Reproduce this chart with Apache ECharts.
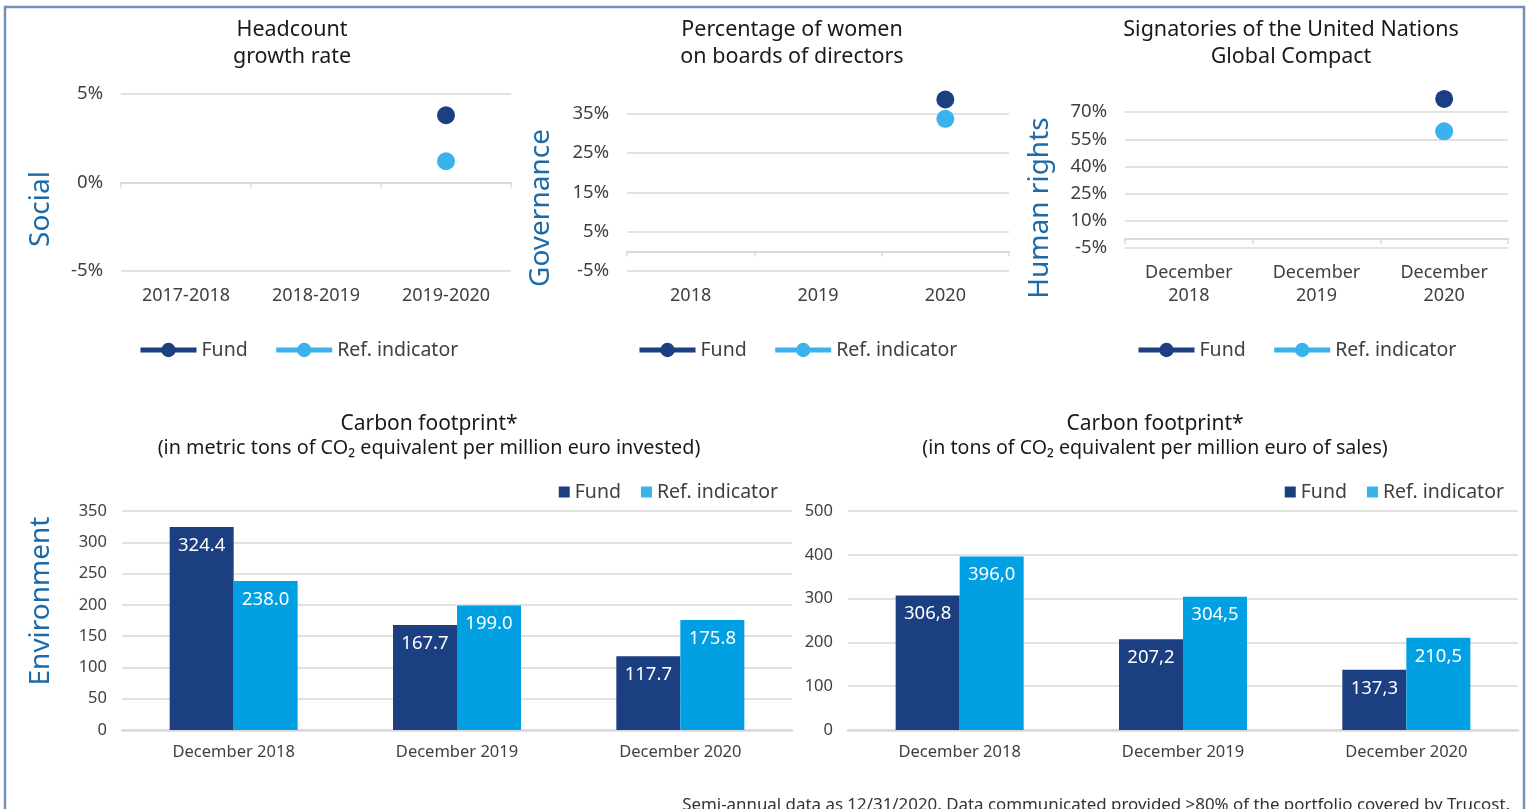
<!DOCTYPE html>
<html>
<head>
<meta charset="utf-8">
<script src="https://cdn.jsdelivr.net/npm/echarts@6/dist/echarts.min.js"></script>
<style>
  html, body { margin: 0; padding: 0; background: #fff; }
  #main { width: 1528px; height: 809px; }
</style>
</head>
<body>
<div id="main"></div>
<script>
// categories
var headcountCats = ["2017-2018", "2018-2019", "2019-2020"];
var boardCats = ["2018", "2019", "2020"];
var ungcCats = ["December\n2018", "December\n2019", "December\n2020"];
var carbonCats = ["December 2018", "December 2019", "December 2020"];

// top charts (only the last period is filled)
var headcountFund = [null, null, 3.8];
var headcountRef = [null, null, 1.2];
var boardFund = [null, null, 38.6];
var boardRef = [null, null, 33.7];
var ungcFund = [null, null, 77.3];
var ungcRef = [null, null, 59.4];

// tick labels of the top charts
var headcountTicks = [-5, 0, 5];
var boardTicks = [-5, 5, 15, 25, 35];
var ungcTicks = [-5, 10, 25, 40, 55, 70];

// carbon footprint
var carbonInvFund = [324.4, 167.7, 117.7];
var carbonInvRef = [238.0, 199.0, 175.8];
var carbonSalesFund = [306.8, 207.2, 137.3];
var carbonSalesRef = [396.0, 304.5, 210.5];

var FONT = "Noto Sans";
var navy = "#1b3f80";
var dotBlue = "#3ab2ee";
var barBlue = "#00a0e2";
var gridGray = "#d9d9d9";
var txt = "#404040";
var sideBlue = "#1d6aa9";

var myChart = echarts.init(document.getElementById("main"));

// grids: Social, Governance, Human rights, Env left, Env right
var grids = [
  { left: 121, top: 94, width: 390, height: 177 },
  { left: 627, top: 94, width: 382, height: 177 },
  { left: 1125, top: 94, width: 383, height: 154 },
  { left: 122, top: 511, width: 670, height: 219 },
  { left: 848, top: 511, width: 670, height: 219 }
];
grids.forEach(function(g) {
  g.containLabel = false;
  g.outerBoundsMode = "none";
});

function labelAxis(gi, cats, margin) {
  return {
    type: "category", gridIndex: gi, data: cats, position: "bottom",
    axisLine: { show: false, onZero: false },
    axisTick: { show: false },
    axisLabel: { color: txt, fontFamily: FONT, fontSize: 18, margin: margin, lineHeight: 23 }
  };
}
function zeroAxis(gi, cats) {
  return {
    type: "category", gridIndex: gi, data: cats, position: "bottom",
    axisLine: { show: true, onZero: true, lineStyle: { color: gridGray, width: 2 } },
    axisTick: { show: true, length: 5, lineStyle: { color: gridGray, width: 1.5 } },
    axisLabel: { show: false }
  };
}
function pctAxis(gi, min, max, ticks) {
  return {
    type: "value", gridIndex: gi, min: min, max: max,
    splitLine: { show: false },
    axisLine: { show: false },
    axisTick: { show: false },
    axisLabel: {
      customValues: ticks, color: txt, fontFamily: FONT, fontSize: 18.5, margin: 18,
      formatter: function(v) { return v + "%"; }
    }
  };
}
function gridLines(gi, ticks) {
  // horizontal gridlines at the tick values
  return {
    name: "grid" + gi, type: "line", xAxisIndex: gi * 2, yAxisIndex: gi, data: [],
    z: 1, silent: true, animation: false,
    markLine: {
      silent: true, symbol: "none", animation: false, label: { show: false },
      lineStyle: { color: gridGray, type: "solid", width: 1.5 },
      emphasis: { disabled: true },
      data: ticks.map(function(t) { return { yAxis: t }; })
    }
  };
}
function dotSeries(name, gi, data, color) {
  return {
    name: name, type: "line", xAxisIndex: gi * 2, yAxisIndex: gi, data: data,
    symbol: "circle", symbolSize: 18, showSymbol: true, z: 5,
    itemStyle: { color: color }, lineStyle: { color: color, width: 5 },
    animation: false
  };
}
function barSeries(name, xi, yi, data, color, fmt) {
  return {
    name: name, type: "bar", xAxisIndex: xi, yAxisIndex: yi, data: data,
    barWidth: 64, barGap: "0%",
    itemStyle: { color: color },
    label: {
      show: true, position: "insideTop", distance: 9, color: "#fff",
      fontFamily: FONT, fontSize: 18.5, formatter: function(p) { return fmt(p.value); }
    },
    animation: false
  };
}
function topLegend(left) {
  return {
    left: left, top: 340, padding: 0, itemWidth: 56, itemHeight: 18, itemGap: 26,
    data: ["Fund", "Ref. indicator"],
    lineStyle: { width: 5 },
    textStyle: { color: txt, fontFamily: FONT, fontSize: 19.5 }
  };
}
function barLegend(right) {
  return {
    right: right, top: 482, padding: 0, icon: "rect", itemWidth: 11, itemHeight: 11, itemGap: 20,
    data: ["Fund", "Ref. indicator"],
    textStyle: { color: txt, fontFamily: FONT, fontSize: 19.5 }
  };
}
function barValueAxis(gi, max, interval) {
  return {
    type: "value", gridIndex: gi, min: 0, max: max, interval: interval,
    splitLine: { lineStyle: { color: gridGray, width: 1.5 } },
    axisLine: { show: false }, axisTick: { show: false },
    axisLabel: { color: txt, fontFamily: FONT, fontSize: 16.5, margin: 15 }
  };
}
function barCatAxis(gi) {
  return {
    type: "category", gridIndex: gi, data: carbonCats, position: "bottom",
    axisLine: { lineStyle: { color: gridGray, width: 2.5 } },
    axisTick: { show: false },
    axisLabel: { color: txt, fontFamily: FONT, fontSize: 16.5, margin: 14 }
  };
}
function text(x, y, str, opt) {
  return {
    type: "text", x: x, y: y, rotation: opt.rotation || 0, silent: true,
    style: {
      text: str, fill: opt.color || "#1a1a1a", font: opt.size + "px '" + FONT + "'",
      textAlign: opt.align || "center", textVerticalAlign: "middle",
      lineHeight: opt.lineHeight || opt.size
    }
  };
}

var option = {
  backgroundColor: "#fff",
  grid: grids,
  xAxis: [
    labelAxis(0, headcountCats, 13), zeroAxis(0, headcountCats),
    labelAxis(1, boardCats, 13), zeroAxis(1, boardCats),
    labelAxis(2, ungcCats, 13), zeroAxis(2, ungcCats),
    barCatAxis(3), barCatAxis(4)
  ],
  yAxis: [
    pctAxis(0, -5, 5, headcountTicks),
    pctAxis(1, -5, 40, boardTicks),
    pctAxis(2, -5, 80, ungcTicks),
    barValueAxis(3, 350, 50),
    barValueAxis(4, 500, 100)
  ],
  legend: [topLegend(138), topLegend(637), topLegend(1136), barLegend(750), barLegend(24)],
  series: [
    gridLines(0, headcountTicks), gridLines(1, boardTicks), gridLines(2, ungcTicks),
    dotSeries("Fund", 0, headcountFund, navy), dotSeries("Ref. indicator", 0, headcountRef, dotBlue),
    dotSeries("Fund", 1, boardFund, navy), dotSeries("Ref. indicator", 1, boardRef, dotBlue),
    dotSeries("Fund", 2, ungcFund, navy), dotSeries("Ref. indicator", 2, ungcRef, dotBlue),
    barSeries("Fund", 6, 3, carbonInvFund, navy, function(v) { return v.toFixed(1); }),
    barSeries("Ref. indicator", 6, 3, carbonInvRef, barBlue, function(v) { return v.toFixed(1); }),
    barSeries("Fund", 7, 4, carbonSalesFund, navy, function(v) { return v.toFixed(1).replace(".", ","); }),
    barSeries("Ref. indicator", 7, 4, carbonSalesRef, barBlue, function(v) { return v.toFixed(1).replace(".", ","); })
  ],
  graphic: [
    // outer frame
    { type: "rect", silent: true, shape: { x: 5, y: 7, width: 1519, height: 830 },
      style: { fill: "none", stroke: "#7391b8", lineWidth: 2.5 } },
    // titles
    text(292, 43, "Headcount\ngrowth rate", { size: 21.5, lineHeight: 27 }),
    text(792, 43, "Percentage of women\non boards of directors", { size: 21.5, lineHeight: 27 }),
    text(1291, 43, "Signatories of the United Nations\nGlobal Compact", { size: 21.5, lineHeight: 27 }),
    text(429, 424, "Carbon footprint*", { size: 21 }),
    text(429, 448, "(in metric tons of CO\u2082 equivalent per million euro invested)", { size: 19.8 }),
    text(1155, 424, "Carbon footprint*", { size: 21 }),
    text(1155, 448, "(in tons of CO\u2082 equivalent per million euro of sales)", { size: 19.6 }),
    // pillar names
    text(41, 209, "Social", { size: 28, color: sideBlue, rotation: Math.PI / 2 }),
    text(541, 208, "Governance", { size: 28, color: sideBlue, rotation: Math.PI / 2 }),
    text(1040, 208, "Human rights", { size: 28, color: sideBlue, rotation: Math.PI / 2 }),
    text(41, 601, "Environment", { size: 28, color: sideBlue, rotation: Math.PI / 2 }),
    // footnote
    text(1510, 805, "Semi-annual data as 12/31/2020. Data communicated provided >80% of the portfolio covered by Trucost.",
      { size: 16.9, color: "#333", align: "right" })
  ]
};

myChart.setOption(option);
</script>
</body>
</html>
